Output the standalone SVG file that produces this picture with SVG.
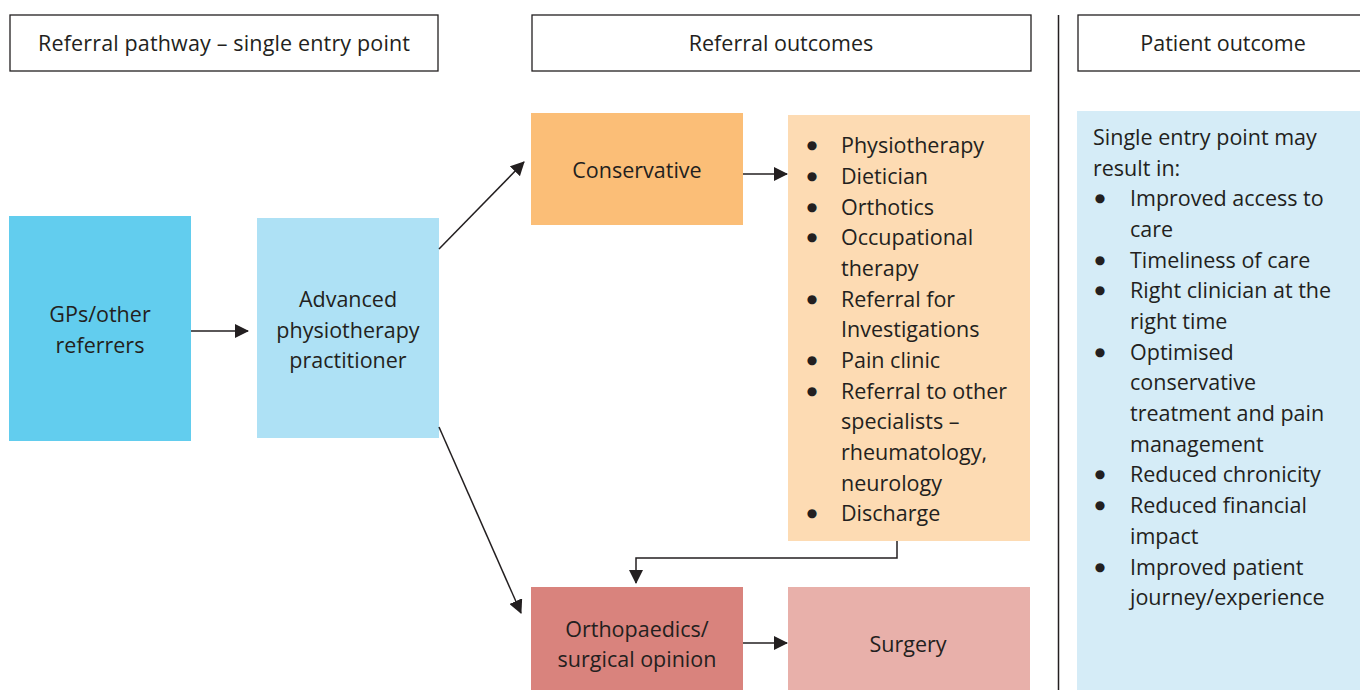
<svg xmlns="http://www.w3.org/2000/svg" width="1360" height="690" viewBox="0 0 1360 690">
<style>
text{font-family:"Open Sans","Noto Sans","Liberation Sans",sans-serif;font-size:21.5px;fill:#231f20}
.c{text-anchor:middle}
.b{font-family:"DejaVu Sans",sans-serif;font-size:12px;text-anchor:middle}
.hdr{fill:#fff;stroke:#231f20;stroke-width:1.3}
.ln{fill:none;stroke:#231f20;stroke-width:1.5}
</style>
<defs>
<marker id="ah" markerUnits="userSpaceOnUse" markerWidth="14" markerHeight="14" viewBox="0 0 14 14" refX="13" refY="7" orient="auto">
<path d="M0,0 L14,7 L0,14 Z" fill="#231f20"/>
</marker>
</defs>
<rect width="1360" height="690" fill="#fff"/>
<g id="headers">
<g id="h1"><rect class="hdr" x="10" y="15" width="428" height="56"/><text class="c" x="224" y="51" textLength="372">Referral pathway – single entry point</text></g>
<g id="h2"><rect class="hdr" x="532" y="15" width="499" height="56"/><text class="c" x="781" y="51">Referral outcomes</text></g>
<g id="h3"><rect class="hdr" x="1078" y="15" width="290" height="56"/><text class="c" x="1223" y="51">Patient outcome</text></g>
<line x1="1058.5" y1="15" x2="1058.5" y2="690" stroke="#231f20" stroke-width="1.5"/>
</g>
<g id="gps"><rect x="9" y="216" width="182" height="225" fill="#62cdee"/><text class="c" x="100" y="322">GPs/other</text><text class="c" x="100" y="353">referrers</text></g>
<g id="app"><rect x="257" y="218" width="182" height="220" fill="#aee1f5"/><text class="c" x="348" y="307">Advanced</text><text class="c" x="348" y="338">physiotherapy</text><text class="c" x="348" y="368">practitioner</text></g>
<g id="conservative"><rect x="531" y="113" width="212" height="112" fill="#fbbe77"/><text class="c" x="637" y="178">Conservative</text></g>
<g id="list"><rect x="788" y="115" width="242" height="426" fill="#fddbb3"/>
<g>
<text class="b" x="812" y="149">●</text><text x="841" y="153">Physiotherapy</text>
<text class="b" x="812" y="180">●</text><text x="841" y="184">Dietician</text>
<text class="b" x="812" y="211">●</text><text x="841" y="215">Orthotics</text>
<text class="b" x="812" y="241">●</text><text x="841" y="245">Occupational</text>
<text x="841" y="276">therapy</text>
<text class="b" x="812" y="303">●</text><text x="841" y="307">Referral for</text>
<text x="841" y="337">Investigations</text>
<text class="b" x="812" y="364">●</text><text x="841" y="368">Pain clinic</text>
<text class="b" x="812" y="395">●</text><text x="841" y="399">Referral to other</text>
<text x="841" y="429">specialists –</text>
<text x="841" y="460">rheumatology,</text>
<text x="841" y="491">neurology</text>
<text class="b" x="812" y="517">●</text><text x="841" y="521">Discharge</text>
</g></g>
<g id="ortho"><rect x="531" y="587" width="212" height="103" fill="#d9837d"/><text class="c" x="637" y="637">Orthopaedics/</text><text class="c" x="637" y="667">surgical opinion</text></g>
<g id="surgery"><rect x="788" y="587" width="242" height="103" fill="#e8b0aa"/><text class="c" x="908" y="652">Surgery</text></g>
<g id="patient"><rect x="1077" y="111" width="283" height="579" fill="#d5ecf7"/>
<text x="1093" y="145">Single entry point may</text>
<text x="1093" y="176">result in:</text>
<text class="b" x="1100" y="202">●</text><text x="1130" y="206">Improved access to</text>
<text x="1130" y="237">care</text>
<text class="b" x="1100" y="264">●</text><text x="1130" y="268">Timeliness of care</text>
<text class="b" x="1100" y="294">●</text><text x="1130" y="298">Right clinician at the</text>
<text x="1130" y="329">right time</text>
<text class="b" x="1100" y="356">●</text><text x="1130" y="360">Optimised</text>
<text x="1130" y="390">conservative</text>
<text x="1130" y="421">treatment and pain</text>
<text x="1130" y="452">management</text>
<text class="b" x="1100" y="478">●</text><text x="1130" y="482">Reduced chronicity</text>
<text class="b" x="1100" y="509">●</text><text x="1130" y="513">Reduced financial</text>
<text x="1130" y="544">impact</text>
<text class="b" x="1100" y="571">●</text><text x="1130" y="575">Improved patient</text>
<text x="1130" y="605">journey/experience</text>
</g>
<g id="connectors">
<line class="ln" x1="191" y1="331" x2="248" y2="331" marker-end="url(#ah)"/>
<line class="ln" x1="743" y1="174" x2="787" y2="174" marker-end="url(#ah)"/>
<line class="ln" x1="439" y1="249" x2="524" y2="162" marker-end="url(#ah)"/>
<line class="ln" x1="439" y1="427" x2="521" y2="613" marker-end="url(#ah)"/>
<polyline class="ln" points="897,541 897,558 636,558 636,583" marker-end="url(#ah)"/>
<line class="ln" x1="743" y1="643" x2="787" y2="643" marker-end="url(#ah)"/>
</g>
</svg>
